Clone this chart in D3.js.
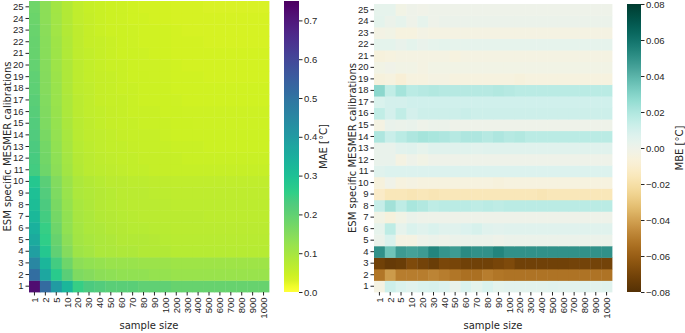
<!DOCTYPE html>
<html>
<head>
<meta charset="utf-8">
<script src="https://cdn.jsdelivr.net/npm/d3@7"></script>
<style>
  body { margin: 0; background: #fff; }
  svg { font-family: "DejaVu Sans", sans-serif; }
  .tick text { font-size: 9.5px; fill: #262626; }
  .tick line { stroke: #262626; }
  .lbl { font-size: 10px; fill: #262626; }
</style>
</head>
<body>
<div id="chart"></div>
<script>
// x categories (sample size), y categories (number of calibrations)
var sampleSizes = ["1","2","5","10","20","30","40","50","60","70","80","90","100","200","300","400","500","600","700","800","900","1000"];
var calibrations = d3.range(1, 26).map(String);

// MAE [°C], one row per calibration count (row 1 first)
var maeRows = [
  [0.72,0.52,0.40,0.33,0.25,0.23,0.22,0.21,0.21,0.21,0.20,0.20,0.20,0.19,0.19,0.19,0.19,0.19,0.19,0.19,0.19,0.19],
  [0.51,0.37,0.27,0.21,0.16,0.15,0.14,0.135,0.13,0.13,0.13,0.125,0.125,0.12,0.12,0.12,0.12,0.12,0.12,0.12,0.12,0.12],
  [0.45,0.33,0.24,0.18,0.14,0.13,0.125,0.12,0.12,0.12,0.115,0.115,0.115,0.11,0.11,0.11,0.11,0.11,0.11,0.11,0.11,0.11],
  [0.39,0.28,0.20,0.15,0.11,0.10,0.09,0.09,0.085,0.085,0.08,0.08,0.08,0.075,0.075,0.075,0.075,0.075,0.075,0.075,0.075,0.075],
  [0.36,0.26,0.19,0.14,0.105,0.095,0.09,0.085,0.08,0.08,0.08,0.078,0.075,0.073,0.072,0.072,0.072,0.072,0.072,0.072,0.072,0.072],
  [0.34,0.25,0.18,0.13,0.10,0.09,0.085,0.08,0.078,0.075,0.075,0.073,0.072,0.07,0.07,0.07,0.07,0.07,0.07,0.07,0.07,0.07],
  [0.32,0.24,0.17,0.13,0.098,0.088,0.08,0.078,0.075,0.073,0.07,0.07,0.07,0.068,0.068,0.068,0.067,0.067,0.067,0.067,0.067,0.067],
  [0.31,0.23,0.165,0.125,0.095,0.085,0.079,0.075,0.073,0.07,0.07,0.068,0.068,0.066,0.066,0.065,0.065,0.065,0.065,0.065,0.065,0.065],
  [0.30,0.22,0.16,0.12,0.09,0.083,0.078,0.074,0.07,0.069,0.068,0.066,0.065,0.064,0.064,0.063,0.063,0.063,0.063,0.063,0.063,0.063],
  [0.28,0.21,0.155,0.115,0.088,0.08,0.075,0.07,0.068,0.066,0.065,0.064,0.063,0.061,0.06,0.06,0.06,0.06,0.06,0.06,0.06,0.06],
  [0.24,0.18,0.14,0.105,0.08,0.07,0.065,0.062,0.06,0.058,0.056,0.055,0.055,0.052,0.051,0.051,0.05,0.05,0.05,0.05,0.05,0.05],
  [0.235,0.175,0.135,0.10,0.078,0.068,0.063,0.06,0.058,0.056,0.054,0.053,0.053,0.05,0.049,0.049,0.048,0.048,0.048,0.048,0.048,0.048],
  [0.23,0.17,0.13,0.098,0.075,0.066,0.061,0.058,0.056,0.054,0.052,0.051,0.051,0.048,0.047,0.047,0.046,0.046,0.046,0.046,0.046,0.046],
  [0.225,0.165,0.128,0.095,0.073,0.064,0.06,0.057,0.054,0.052,0.05,0.05,0.049,0.046,0.045,0.045,0.044,0.044,0.044,0.044,0.044,0.044],
  [0.22,0.16,0.125,0.093,0.071,0.062,0.058,0.055,0.052,0.05,0.049,0.048,0.047,0.045,0.044,0.043,0.043,0.043,0.043,0.043,0.043,0.043],
  [0.215,0.158,0.122,0.09,0.07,0.061,0.057,0.054,0.051,0.049,0.048,0.047,0.046,0.044,0.043,0.042,0.042,0.042,0.042,0.042,0.042,0.042],
  [0.21,0.155,0.12,0.088,0.068,0.06,0.055,0.052,0.05,0.048,0.046,0.045,0.045,0.042,0.041,0.041,0.04,0.04,0.04,0.04,0.04,0.04],
  [0.205,0.152,0.118,0.087,0.067,0.059,0.054,0.051,0.049,0.047,0.045,0.044,0.044,0.041,0.04,0.04,0.039,0.039,0.039,0.039,0.039,0.039],
  [0.20,0.15,0.116,0.086,0.066,0.058,0.053,0.05,0.048,0.046,0.044,0.043,0.043,0.04,0.039,0.039,0.038,0.038,0.038,0.038,0.038,0.038],
  [0.195,0.148,0.114,0.085,0.065,0.057,0.052,0.049,0.047,0.045,0.043,0.042,0.042,0.039,0.038,0.038,0.037,0.037,0.037,0.037,0.037,0.037],
  [0.19,0.146,0.112,0.084,0.064,0.056,0.051,0.048,0.046,0.044,0.042,0.041,0.041,0.038,0.037,0.037,0.036,0.036,0.036,0.036,0.036,0.036],
  [0.188,0.144,0.11,0.083,0.063,0.055,0.05,0.047,0.045,0.043,0.041,0.04,0.04,0.037,0.036,0.036,0.035,0.035,0.035,0.035,0.035,0.035],
  [0.185,0.142,0.108,0.082,0.062,0.054,0.049,0.046,0.044,0.042,0.04,0.039,0.039,0.036,0.035,0.035,0.034,0.034,0.034,0.034,0.034,0.034],
  [0.182,0.14,0.106,0.081,0.061,0.053,0.048,0.045,0.043,0.041,0.039,0.038,0.038,0.035,0.034,0.034,0.033,0.033,0.033,0.033,0.033,0.033],
  [0.18,0.138,0.105,0.08,0.06,0.052,0.047,0.044,0.042,0.04,0.038,0.037,0.037,0.034,0.033,0.033,0.032,0.032,0.032,0.032,0.032,0.032]
];

// MBE [°C], one row per calibration count (row 1 first)
var mbeRows = [
  [-0.004,0.012,0.008,0.006,0.008,0.009,0.007,0.002,0.008,0.004,0.008,0.004,0.005,0.005,0.005,0.005,0.006,0.005,0.005,0.006,0.005,0.006],
  [-0.052,-0.042,-0.05,-0.05,-0.05,-0.048,-0.05,-0.052,-0.054,-0.054,-0.05,-0.052,-0.053,-0.053,-0.053,-0.053,-0.053,-0.053,-0.053,-0.053,-0.053,-0.053],
  [-0.072,-0.075,-0.074,-0.068,-0.071,-0.074,-0.069,-0.07,-0.072,-0.072,-0.072,-0.07,-0.068,-0.072,-0.072,-0.072,-0.072,-0.072,-0.071,-0.071,-0.071,-0.071],
  [0.05,0.035,0.047,0.045,0.047,0.054,0.049,0.047,0.052,0.05,0.05,0.054,0.05,0.05,0.05,0.05,0.05,0.05,0.05,0.05,0.05,0.05],
  [0.001,0.008,-0.004,-0.004,0.0,0.001,0.0,0.001,0.001,0.001,0.001,0.0,0.001,0.001,0.001,0.001,0.001,0.001,0.001,0.001,0.001,0.001],
  [0.003,0.016,0.003,0.008,0.006,0.008,0.006,0.006,0.007,0.009,0.006,0.005,0.006,0.006,0.006,0.006,0.006,0.006,0.006,0.006,0.006,0.006],
  [-0.002,-0.006,-0.002,0.001,0.0,0.0,0.0,0.0,0.0,0.0,0.0,0.0,0.0,0.0,0.0,0.0,0.0,0.0,0.0,0.0,0.0,0.0],
  [0.014,0.023,0.016,0.021,0.019,0.016,0.017,0.017,0.017,0.016,0.017,0.016,0.017,0.017,0.017,0.017,0.017,0.017,0.017,0.017,0.017,0.017],
  [-0.012,-0.016,-0.016,-0.017,-0.016,-0.017,-0.016,-0.016,-0.016,-0.016,-0.016,-0.016,-0.016,-0.016,-0.016,-0.017,-0.016,-0.016,-0.016,-0.016,-0.016,-0.016],
  [-0.006,-0.001,-0.005,-0.004,-0.005,-0.005,-0.005,-0.005,-0.005,-0.005,-0.005,-0.006,-0.005,-0.005,-0.005,-0.005,-0.005,-0.005,-0.005,-0.005,-0.005,-0.005],
  [0.006,0.007,0.007,0.007,0.007,0.007,0.007,0.007,0.007,0.007,0.007,0.007,0.007,0.007,0.007,0.007,0.007,0.007,0.007,0.007,0.007,0.007],
  [0.002,0.002,-0.004,0.0,-0.002,0.0,0.0,0.0,0.0,0.0,0.0,0.0,0.0,0.0,0.0,0.0,0.0,0.0,0.0,0.0,0.0,0.0],
  [0.002,0.002,0.005,0.006,0.003,0.006,0.006,0.006,0.006,0.005,0.006,0.006,0.006,0.006,0.006,0.006,0.006,0.006,0.006,0.006,0.006,0.006],
  [0.02,0.013,0.017,0.02,0.022,0.021,0.02,0.018,0.02,0.02,0.018,0.02,0.018,0.019,0.017,0.017,0.017,0.017,0.017,0.017,0.017,0.017],
  [-0.004,0.002,0.001,0.002,0.0,0.001,0.001,0.0,0.0,0.0,0.0,0.0,0.0,0.0,0.0,0.0,0.0,0.0,0.0,0.0,0.0,0.0],
  [0.015,0.01,0.015,0.01,0.012,0.012,0.012,0.012,0.013,0.012,0.012,0.012,0.012,0.012,0.012,0.012,0.012,0.012,0.012,0.012,0.012,0.012],
  [0.008,0.01,0.01,0.011,0.011,0.011,0.011,0.011,0.011,0.011,0.011,0.011,0.011,0.011,0.011,0.011,0.011,0.011,0.011,0.011,0.011,0.011],
  [0.028,0.015,0.022,0.017,0.018,0.019,0.018,0.018,0.018,0.018,0.018,0.019,0.018,0.017,0.017,0.017,0.017,0.017,0.017,0.017,0.017,0.017],
  [-0.006,-0.005,-0.008,-0.005,-0.005,-0.004,-0.004,-0.005,-0.005,-0.005,-0.005,-0.005,-0.005,-0.006,-0.005,-0.005,-0.005,-0.005,-0.005,-0.005,-0.005,-0.005],
  [-0.002,-0.001,-0.002,-0.002,-0.004,-0.002,-0.002,-0.002,-0.002,-0.002,-0.002,-0.002,-0.002,-0.002,-0.002,-0.002,-0.002,-0.002,-0.002,-0.002,-0.002,-0.002],
  [-0.006,-0.005,-0.004,-0.004,-0.004,-0.004,-0.004,-0.005,-0.004,-0.004,-0.004,-0.004,-0.004,-0.004,-0.004,-0.004,-0.004,-0.004,-0.004,-0.004,-0.004,-0.004],
  [0.004,0.004,0.002,0.004,0.002,0.003,0.004,0.003,0.003,0.003,0.003,0.003,0.003,0.003,0.003,0.003,0.003,0.003,0.003,0.003,0.003,0.003],
  [-0.003,-0.002,-0.005,-0.005,-0.003,-0.004,-0.004,-0.004,-0.004,-0.004,-0.004,-0.004,-0.004,-0.004,-0.004,-0.004,-0.004,-0.004,-0.004,-0.004,-0.004,-0.004],
  [0.004,0.001,0.003,0.0,0.003,0.0,0.001,0.001,0.001,0.001,0.001,0.001,0.001,0.001,0.001,0.001,0.001,0.001,0.001,0.001,0.001,0.001],
  [0.003,0.003,-0.002,0.0,-0.001,0.0,0.0,0.0,0.0,0.0,0.0,0.0,0.0,0.0,0.0,0.0,0.0,0.0,0.0,0.0,0.0,0.0]
];

var maeTicks = [0, 0.1, 0.2, 0.3, 0.4, 0.5, 0.6, 0.7];
var mbeTicks = [-0.08, -0.06, -0.04, -0.02, 0, 0.02, 0.04, 0.06, 0.08];

var W = 685, H = 333;
var svg = d3.select("#chart").append("svg")
    .attr("width", W)
    .attr("height", H);

// the picture is a bit brighter than the stock viridis: lift midtones, nudge yellows to lime
function limeViridis(t) {
    var c = d3.hsl(d3.interpolateViridis(t));
    c.h = c.h + 8 * Math.max(0, 1 - Math.abs(c.h - 62) / 40);
    c.s = Math.min(1, c.s * 1.1);
    c.l = c.l + 0.05 * (1 - Math.abs(2 * c.l - 1));
    return c.formatHex();
}

// only the pale end of BrBG looks more saturated in the picture
function paleBoostBrBG(t) {
    var c = d3.hsl(d3.interpolateBrBG(t));
    c.s = Math.min(1, c.s * (1 + 0.8 * Math.max(0, c.l - 0.5)));
    return c.formatHex();
}

var maeColor = d3.scaleSequential(function (t) { return limeViridis(1 - t); })
    .domain([0, 0.75]);
var mbeColor = d3.scaleDiverging(paleBoostBrBG)
    .domain([-0.08, 0, 0.08]);

function drawHeatmap(cfg) {
    var g = svg.append("g");
    var x = d3.scaleBand().domain(sampleSizes).range([cfg.x0, cfg.x1]);
    var y = d3.scaleBand().domain(calibrations).range([cfg.y1, cfg.y0]);

    // cells
    cfg.rows.forEach(function (row, ri) {
        g.selectAll(null)
            .data(row)
            .enter()
            .append("rect")
            .attr("x", function (d, ci) { return x(sampleSizes[ci]); })
            .attr("y", y(calibrations[ri]))
            .attr("width", x.bandwidth() + 0.4)
            .attr("height", y.bandwidth() + 0.4)
            .attr("fill", function (d) { return cfg.color(d); });
    });

    // axes
    g.append("g")
        .attr("transform", "translate(0," + cfg.y1 + ")")
        .call(d3.axisBottom(x).tickSize(3.5).tickPadding(2))
        .call(function (a) {
            a.select(".domain").remove();
            a.selectAll(".tick text")
                .attr("transform", "rotate(-90)")
                .attr("text-anchor", "end")
                .attr("x", -5.5)
                .attr("y", 0)
                .attr("dy", "0.35em");
        });

    g.append("g")
        .attr("transform", "translate(" + cfg.x0 + ",0)")
        .call(d3.axisLeft(y).tickSize(3.5).tickPadding(2))
        .call(function (a) { a.select(".domain").remove(); });

    g.append("text").attr("class", "lbl")
        .attr("x", (cfg.x0 + cfg.x1) / 2)
        .attr("y", 329)
        .attr("text-anchor", "middle")
        .text("sample size");

    g.append("text").attr("class", "lbl")
        .attr("transform", "translate(" + cfg.ylabX + "," + ((cfg.y0 + cfg.y1) / 2) + ") rotate(-90)")
        .attr("text-anchor", "middle")
        .text("ESM specific MESMER calibrations");

    // colorbar
    var cb = cfg.cbar;
    var gradId = "grad" + cfg.id;
    var dom = cfg.color.domain();
    var lo = dom[0], hi = dom[dom.length - 1];
    var grad = svg.append("defs").append("linearGradient")
        .attr("id", gradId)
        .attr("x1", 0).attr("y1", 1).attr("x2", 0).attr("y2", 0);
    d3.range(0, 1.0001, 0.02).forEach(function (t) {
        grad.append("stop")
            .attr("offset", t)
            .attr("stop-color", cfg.color(lo + t * (hi - lo)));
    });
    g.append("rect")
        .attr("x", cb.x).attr("y", cfg.y0)
        .attr("width", cb.w).attr("height", cfg.y1 - cfg.y0)
        .attr("fill", "url(#" + gradId + ")");

    var cy = d3.scaleLinear().domain([lo, hi]).range([cfg.y1, cfg.y0]);
    g.append("g")
        .attr("transform", "translate(" + (cb.x + cb.w) + ",0)")
        .call(d3.axisRight(cy).tickValues(cfg.ticks).tickFormat(d3.format(cfg.fmt)).tickSize(3.5).tickPadding(1.5))
        .call(function (a) { a.select(".domain").remove(); });

    g.append("text").attr("class", "lbl")
        .attr("transform", "translate(" + cb.labX + "," + ((cfg.y0 + cfg.y1) / 2) + ") rotate(-90)")
        .attr("text-anchor", "middle")
        .text(cfg.label);
}

drawHeatmap({
    id: "mae", rows: maeRows, color: maeColor, ticks: maeTicks, fmt: ".1f",
    x0: 29, x1: 269, y0: 1, y1: 292, ylabX: 11,
    cbar: { x: 284, w: 15, labX: 327 }, label: "MAE [°C]"
});

drawHeatmap({
    id: "mbe", rows: mbeRows, color: mbeColor, ticks: mbeTicks, fmt: ".2f",
    x0: 374, x1: 612, y0: 4, y1: 292, ylabX: 356,
    cbar: { x: 627, w: 14, labX: 683 }, label: "MBE [°C]"
});
</script>
</body>
</html>
